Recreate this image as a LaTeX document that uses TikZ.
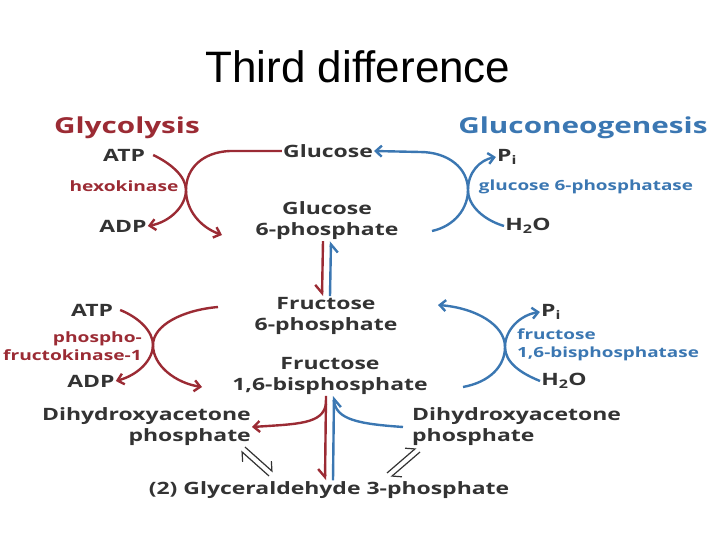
\documentclass[tikz,border=0pt]{standalone}
\usepackage{fontspec}
\setmainfont{Open Sans}[FakeStretch=1.35]
\newfontfamily\titlefont{Liberation Sans}
\usepackage{tikz}
\usetikzlibrary{arrows.meta,positioning,calc}
\definecolor{glyred}{HTML}{9B2B34}
\definecolor{gngblue}{HTML}{3B77B2}
\definecolor{metgray}{HTML}{333333}

\begin{document}
\begin{tikzpicture}[x=1pt, y=-1pt,
  met/.style={font=\bfseries\fontsize{17}{21}\selectfont, text=metgray, align=center, inner sep=1pt},
  enzred/.style={font=\bfseries\fontsize{14.2}{18}\selectfont, text=glyred, inner sep=1pt},
  enzblue/.style={font=\bfseries\fontsize{14}{18}\selectfont, text=gngblue, inner sep=1pt},
  pathhead/.style={font=\bfseries\fontsize{22}{24}\selectfont, inner sep=0pt},
  redarr/.style={draw=glyred, line width=2.4pt, -{Straight Barb[length=6pt, width=11pt]}},
  bluearr/.style={draw=gngblue, line width=2.4pt, -{Straight Barb[length=6pt, width=11pt]}},
  redline/.style={draw=glyred, line width=2.4pt},
  blueline/.style={draw=gngblue, line width=2.4pt},
  equil/.style={draw=metgray, line width=1.2pt, -{Straight Barb[harpoon, length=7pt, width=14pt]}}
]
  \useasboundingbox (0,0) rectangle (720,540);
  \node[font=\titlefont\fontsize{44}{50}\selectfont] (title) at (358,67) {Third difference};

  \node[pathhead, text=glyred] (glyhead) at (127,128) {Glycolysis};
  \node[pathhead, text=gngblue] (gnghead) at (583,128) {Gluconeogenesis};

  % metabolites
  \node[met] (glc) at (328,151) {Glucose};
  \node[met] (g6p) at (327,221) {Glucose\\6-phosphate};
  \node[met] (f6p) at (326,316) {Fructose\\6-phosphate};
  \node[met] (fbp) at (330,376) {Fructose\\1,6-bisphosphate};
  \node[met, align=right, anchor=east] (dhapl) at (252,427) {Dihydroxyacetone\\phosphate};
  \node[met, align=left, anchor=west] (dhapr) at (411,427) {Dihydroxyacetone\\phosphate};
  \node[met] (gap) at (329,490) {(2) Glyceraldehyde 3-phosphate};

  % cofactors and enzymes
  \node[met] (atp1) at (124,155) {ATP};
  \node[enzred] (hk) at (124,186) {hexokinase};
  \node[met] (adp1) at (123,226) {ADP};
  \node[met] (pi1) at (507,157) {P\textsubscript{i}};
  \node[enzblue] (gpase) at (586,187) {glucose 6-phosphatase};
  \node[met] (h2o1) at (528,226) {H\textsubscript{2}O};

  \node[met] (atp2) at (92,310) {ATP};
  \node[enzred, align=right, anchor=east] (pfk) at (143,346) {phospho-\\fructokinase-1};
  \node[met] (adp2) at (91,381) {ADP};
  \node[met] (pi2) at (551,312) {P\textsubscript{i}};
  \node[enzblue, align=left, anchor=west] (fbpase) at (516,345) {fructose\\1,6-bisphosphatase};
  \node[met] (h2o2) at (564,381) {H\textsubscript{2}O};

  % free ends
  \coordinate (hkout) at (222,235);
  \coordinate (g6pout) at (432,231);
  \coordinate (pfkin) at (218,307);
  \coordinate (pfkout) at (202,387);
  \coordinate (fbpin) at (463,387);
  \coordinate (fbpout) at (438,305);
  \coordinate (eqla) at (243,449);
  \coordinate (eqlb) at (271,474);
  \coordinate (eqra) at (389,475);
  \coordinate (eqrb) at (418,450);

  % hexokinase
  \draw[redarr] (glc.west) -- (230,151) .. controls (203,152) and (186,168) .. (186,190)
    .. controls (186,210) and (200,227) .. (hkout);
  \draw[redarr] ([xshift=7pt]atp1.east) .. controls (170,163) and (186,176) .. (186,190)
    .. controls (186,206) and (170,222) .. (adp1.east);
  % glucose 6-phosphatase
  \draw[bluearr] (g6pout) .. controls (455,226) and (468,208) .. (468,190)
    .. controls (468,168) and (448,152) .. (420,152) -- (glc.east);
  \draw[bluearr] (h2o1.west) .. controls (484,220) and (468,206) .. (468,190)
    .. controls (468,172) and (480,160) .. (pi1.west);

  % between G6P and F6P
  \draw[redline, -{Straight Barb[harpoon, swap, length=8pt, width=14pt]}] ([xshift=-4pt]g6p.south) -- ([xshift=-4pt]f6p.north);
  \draw[blueline, -{Straight Barb[harpoon, swap, length=8pt, width=14pt]}] ([xshift=4pt]f6p.north) -- ([xshift=4pt]g6p.south);

  % phosphofructokinase-1
  \draw[redarr] (pfkin) .. controls (183,310) and (153,325) .. (153,345)
    .. controls (153,366) and (176,383) .. (pfkout);
  \draw[redarr] ([xshift=6pt]atp2.east) .. controls (140,318) and (153,332) .. (153,345)
    .. controls (153,360) and (138,375) .. (adp2.east);
  % fructose 1,6-bisphosphatase
  \draw[bluearr] (fbpin) .. controls (490,382) and (505,366) .. (505,347)
    .. controls (505,325) and (476,308) .. (fbpout);
  \draw[bluearr] (h2o2.west) .. controls (520,373) and (505,362) .. (505,347)
    .. controls (505,330) and (520,315) .. (pi2.west);

  % aldolase
  \draw[redline, -{Straight Barb[harpoon, swap, length=8pt, width=14pt]}] ([xshift=-4pt]fbp.south) -- ([xshift=-4pt]gap.north);
  \draw[blueline, -{Straight Barb[harpoon, swap, length=8pt, width=14pt]}] ([xshift=4pt]gap.north) -- ([xshift=4pt]fbp.south);
  \draw[redarr] ([xshift=-4pt]fbp.south) ++(0,8) .. controls (323,424) and (298,424) .. (dhapl.east);
  \draw[blueline] ([xshift=4pt]fbp.south) ++(0,4) .. controls (335,420) and (360,424) .. ([xshift=-8pt]dhapr.west);

  % triose phosphate isomerase
  \draw[equil] ([shift={(2,-2)}]eqla) -- ([shift={(2,-2)}]eqlb);
  \draw[equil] ([shift={(-2,2)}]eqlb) -- ([shift={(-2,2)}]eqla);
  \draw[equil] ([shift={(-2,-2)}]eqra) -- ([shift={(-2,-2)}]eqrb);
  \draw[equil] ([shift={(2,2)}]eqrb) -- ([shift={(2,2)}]eqra);
\end{tikzpicture}
\end{document}
